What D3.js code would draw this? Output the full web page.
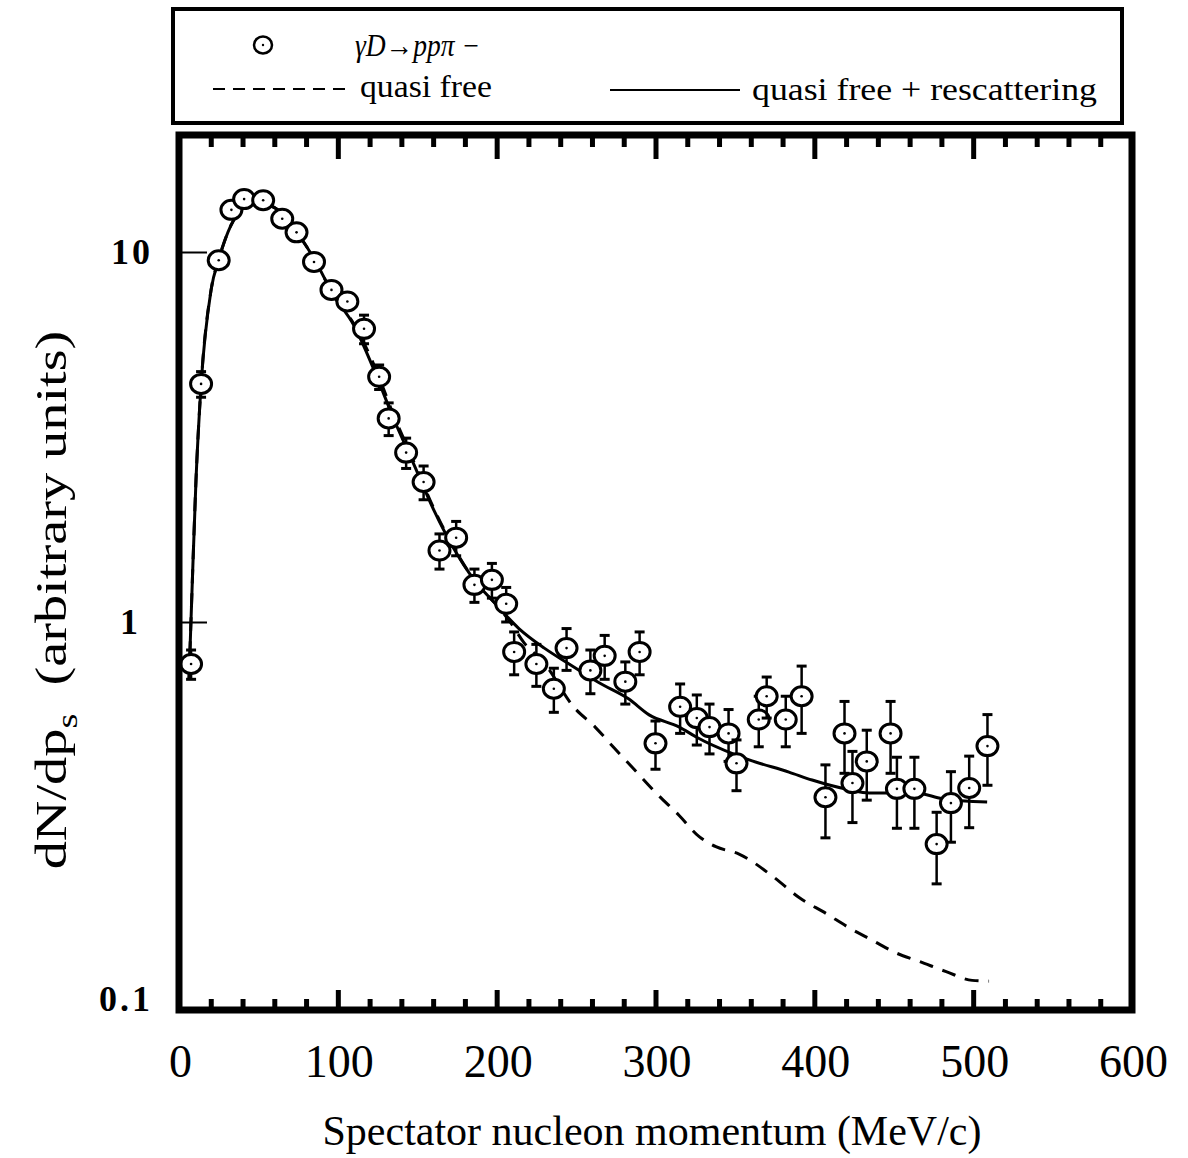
<!DOCTYPE html>
<html>
<head>
<meta charset="utf-8">
<script src="https://cdn.jsdelivr.net/npm/d3@7"></script>
<style>
  body { margin: 0; background: #fff; }
  svg { display: block; font-family: "Liberation Serif", "DejaVu Serif", serif; }
</style>
</head>
<body>
<div id="chart"></div>
<script>

// Measured points: spectator momentum (MeV/c), dN/dp_s and error
var momentum = [7.6, 13.9, 25, 33, 41, 53, 65, 74, 85, 96,
                106, 116.5, 126, 132, 143, 154, 164, 174.5, 186, 197,
                206, 211, 225, 236, 244, 259, 268, 281, 290, 300,
                315.5, 326, 334, 346, 351, 365, 370, 382, 392, 407,
                419, 424, 433, 448, 452, 463, 477, 486, 497.5, 509];
var yields = [0.77, 4.4, 9.5, 13.0, 13.9, 13.8, 12.3, 11.3, 9.4, 7.9,
              7.35, 6.2, 4.6, 3.55, 2.87, 2.39, 1.56, 1.69, 1.26, 1.30,
              1.12, 0.83, 0.77, 0.66, 0.85, 0.74, 0.81, 0.69, 0.83, 0.47,
              0.59, 0.55, 0.52, 0.50, 0.415, 0.545, 0.63, 0.545, 0.63, 0.336,
              0.50, 0.367, 0.42, 0.50, 0.354, 0.354, 0.251, 0.324, 0.356, 0.462];
var errors = [0.07, 0.35, 0.4, 0.5, 0.5, 0.5, 0.5, 0.4, 0.4, 0.35,
              0.35, 0.55, 0.35, 0.36, 0.27, 0.25, 0.17, 0.18, 0.13, 0.14,
              0.12, 0.11, 0.10, 0.09, 0.11, 0.10, 0.11, 0.09, 0.11, 0.07,
              0.09, 0.085, 0.08, 0.08, 0.065, 0.085, 0.08, 0.085, 0.13, 0.075,
              0.11, 0.08, 0.09, 0.11, 0.077, 0.077, 0.055, 0.07, 0.078, 0.10];

// quasi free + rescattering (solid)
var solidX = [6.3, 8.2, 10.7, 13.9, 20.2, 25.2, 32.7, 41, 49, 56.7,
              66, 75.6, 85, 97.6, 110, 122.8, 135.4, 148, 160.6, 173,
              185.8, 198.4, 214, 230, 245.6, 264.5, 283, 296, 315, 325.6,
              350.8, 359, 384, 398.6, 422, 434.5, 464, 480.5, 508.8];
var solidY = [0.70, 1.22, 2.42, 4.37, 7.9, 9.6, 11.8, 13.2, 13.65, 13.4,
              12.6, 11.1, 9.6, 7.6, 6.35, 4.8, 3.52, 2.66, 2.0, 1.58,
              1.3, 1.13, 0.96, 0.85, 0.77, 0.685, 0.62, 0.561, 0.52, 0.489,
              0.437, 0.424, 0.393, 0.374, 0.352, 0.345, 0.345, 0.333, 0.326];

// quasi free (dashed)
var dashX = [6.3, 8.2, 10.7, 13.9, 20.2, 25.2, 32.7, 41, 49, 56.7,
             66, 75.6, 85, 97.6, 110, 122.8, 135.4, 148, 160.6, 173,
             185.8, 198.4, 207.8, 217.3, 230, 248.7, 262, 273.3, 286.5, 300.4,
             314.9, 327.5, 338, 352.6, 374.7, 390.4, 407.4, 422, 436.4, 451.5,
             466, 483, 499.4, 510];
var dashY = [0.70, 1.22, 2.42, 4.37, 7.9, 9.6, 11.8, 13.2, 13.65, 13.4,
             12.6, 11.1, 9.6, 7.6, 6.4, 4.95, 3.6, 2.7, 2.02, 1.59,
             1.3, 1.13, 1.01, 0.878, 0.773, 0.588, 0.52, 0.46, 0.40, 0.345,
             0.30, 0.263, 0.247, 0.236, 0.204, 0.18, 0.163, 0.149, 0.138, 0.1275,
             0.121, 0.1135, 0.1075, 0.107];

// Tick values and labels
var xTicks = [0, 100, 200, 300, 400, 500, 600];
var xMajor = [100, 200, 300, 400, 500];
var xMinor = [20, 40, 60, 80, 120, 140, 160, 180, 220, 240, 260, 280, 320, 340,
              360, 380, 420, 440, 460, 480, 520, 540, 560, 580];
var yTicks = [0.1, 1, 10];
var yTickLabels = ['0.1', '1', '10'];

var width = 1188,
    height = 1158;

var frame = {left: 179, right: 1132, top: 135, bottom: 1010};

var svg = d3.select('#chart')
            .append('svg')
            .attr('width', width)
            .attr('height', height);

var x = d3.scaleLinear()
          .domain([0, 600])
          .range([frame.left, frame.right]);

var y = d3.scaleLog()
          .domain([0.1, 10])
          .range([992, 252]);

// Legend box
var legend = svg.append('g').attr('class', 'legend');

legend.append('rect')
      .attr('x', 173).attr('y', 9)
      .attr('width', 949).attr('height', 114)
      .attr('fill', 'none')
      .attr('stroke', '#000')
      .attr('stroke-width', 4);

legend.append('ellipse')
      .attr('cx', 263).attr('cy', 45)
      .attr('rx', 9).attr('ry', 8.5)
      .attr('fill', '#fff').attr('stroke', '#000').attr('stroke-width', 2.5);
legend.append('circle')
      .attr('cx', 263).attr('cy', 45).attr('r', 1.2);

legend.append('text')
      .attr('x', 355).attr('y', 56)
      .attr('font-size', 31)
      .attr('font-style', 'italic')
      .attr('textLength', 125)
      .attr('lengthAdjust', 'spacingAndGlyphs')
      .text('\u03b3D\u2192pp\u03c0 \u2212');

legend.append('line')
      .attr('x1', 213).attr('x2', 345)
      .attr('y1', 89).attr('y2', 89)
      .attr('stroke', '#000').attr('stroke-width', 2)
      .attr('stroke-dasharray', '12,8');

legend.append('text')
      .attr('x', 360).attr('y', 97)
      .attr('font-size', 32)
      .attr('textLength', 132)
      .attr('lengthAdjust', 'spacingAndGlyphs')
      .text('quasi free');

legend.append('line')
      .attr('x1', 610).attr('x2', 740)
      .attr('y1', 90).attr('y2', 90)
      .attr('stroke', '#000').attr('stroke-width', 2);

legend.append('text')
      .attr('x', 752).attr('y', 100)
      .attr('font-size', 32)
      .attr('textLength', 345)
      .attr('lengthAdjust', 'spacingAndGlyphs')
      .text('quasi free + rescattering');

// Stubby frame ticks, top and bottom
function frameTicks(axis, ty) {
  svg.append('g')
     .attr('transform', 'translate(0,' + ty + ')')
     .call(axis)
     .call(function(g) { g.select('.domain').remove(); })
     .call(function(g) { g.selectAll('.tick text').remove(); })
     .selectAll('.tick line')
      .attr('stroke', '#000')
      .attr('stroke-width', 5);
}

frameTicks(d3.axisBottom(x).tickValues(xMinor).tickSize(12).tickFormat(''), frame.top);
frameTicks(d3.axisBottom(x).tickValues(xMajor).tickSize(24).tickFormat(''), frame.top);
frameTicks(d3.axisTop(x).tickValues(xMinor).tickSize(11).tickFormat(''), frame.bottom);
frameTicks(d3.axisTop(x).tickValues(xMajor).tickSize(20).tickFormat(''), frame.bottom);

// X tick labels
svg.append('g')
   .attr('transform', 'translate(0,' + frame.bottom + ')')
   .call(d3.axisBottom(x).tickValues(xTicks).tickSize(0).tickPadding(34))
   .call(function(g) { g.select('.domain').remove(); })
   .selectAll('.tick text')
    .attr('font-family', '"Liberation Serif", serif')
    .attr('font-size', 46)
    .attr('fill', '#000')
    .attr('dx', 1);

// Y axis: thin inside ticks at 1 and 10
var yAxis = svg.append('g')
   .attr('transform', 'translate(' + frame.left + ',0)')
   .call(d3.axisLeft(y)
           .tickValues(yTicks)
           .tickSize(-28)
           .tickPadding(26)
           .tickFormat(function(d, i) { return yTickLabels[i]; }));

yAxis.select('.domain').remove();
yAxis.selectAll('.tick line')
     .attr('stroke', '#000')
     .attr('stroke-width', 2)
     .attr('opacity', function(d) { return d < 0.5 ? 0 : 1; });
yAxis.selectAll('.tick text')
     .attr('font-family', '"Liberation Serif", serif')
     .attr('font-weight', 'bold')
     .attr('font-size', 36)
     .attr('letter-spacing', 3)
     .attr('fill', '#000')
     .attr('dx', function(d) { return d === 1 ? -12 : 0; })
     .attr('dy', function(d) { return d < 0.5 ? '0.5em' : '0.32em'; });

// Curves
var line = d3.line()
             .x(function(d) { return x(d[0]); })
             .y(function(d) { return y(d[1]); })
             .curve(d3.curveMonotoneX);

svg.append('path')
   .datum(d3.zip(dashX, dashY))
   .attr('d', line)
   .attr('fill', 'none')
   .attr('stroke', '#000')
   .attr('stroke-width', 3)
   .attr('stroke-dasharray', '14,10');

svg.append('path')
   .datum(d3.zip(solidX, solidY))
   .attr('d', line)
   .attr('fill', 'none')
   .attr('stroke', '#000')
   .attr('stroke-width', 3);

// Data points with error bars
var points = momentum.map(function(m, i) {
  return {x: m, y: yields[i], e: errors[i]};
});

var pt = svg.append('g')
            .selectAll('g')
            .data(points)
            .enter()
            .append('g');

pt.append('line')
   .attr('x1', function(d) { return x(d.x); })
   .attr('x2', function(d) { return x(d.x); })
   .attr('y1', function(d) { return y(d.y + d.e); })
   .attr('y2', function(d) { return y(d.y - d.e); })
   .attr('stroke', '#000')
   .attr('stroke-width', 2.5);

[1, -1].forEach(function(s) {
  pt.append('line')
     .attr('x1', function(d) { return x(d.x) - 5; })
     .attr('x2', function(d) { return x(d.x) + 5; })
     .attr('y1', function(d) { return y(d.y + s * d.e); })
     .attr('y2', function(d) { return y(d.y + s * d.e); })
     .attr('stroke', '#000')
     .attr('stroke-width', 3);
});

pt.append('ellipse')
   .attr('cx', function(d) { return x(d.x); })
   .attr('cy', function(d) { return y(d.y); })
   .attr('rx', 10.5)
   .attr('ry', 9.5)
   .attr('fill', '#fff')
   .attr('stroke', '#000')
   .attr('stroke-width', 3);

pt.append('circle')
   .attr('cx', function(d) { return x(d.x); })
   .attr('cy', function(d) { return y(d.y); })
   .attr('r', 1.3)
   .attr('fill', '#000');

// Heavy plot frame
svg.append('rect')
   .attr('x', frame.left)
   .attr('y', frame.top)
   .attr('width', frame.right - frame.left)
   .attr('height', frame.bottom - frame.top)
   .attr('fill', 'none')
   .attr('stroke', '#000')
   .attr('stroke-width', 7);

// Axis titles
svg.append('text')
   .attr('x', 652)
   .attr('y', 1145)
   .attr('text-anchor', 'middle')
   .attr('font-size', 42)
   .text('Spectator nucleon momentum (MeV/c)');

var yTitle = svg.append('text')
   .attr('transform', 'translate(66,600) rotate(-90) scale(1.28,1)')
   .attr('text-anchor', 'middle')
   .attr('font-size', 44);

yTitle.append('tspan').text('dN/dp');
yTitle.append('tspan')
      .attr('font-size', 30)
      .attr('dy', 11)
      .text('s');
yTitle.append('tspan')
      .attr('dy', -11)
      .text('\u00a0 (arbitrary units)');

</script>
</body>
</html>
